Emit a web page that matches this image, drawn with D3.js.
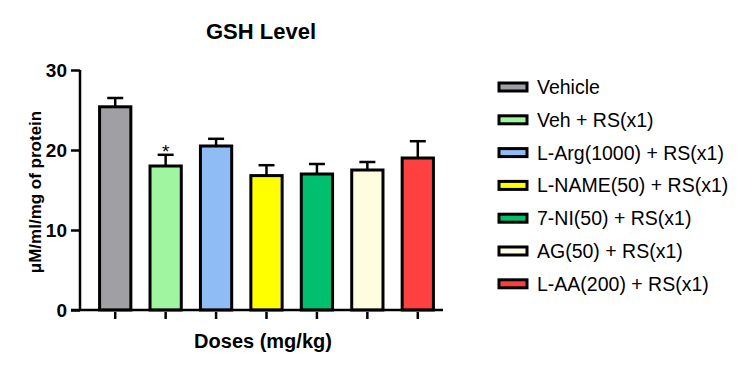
<!DOCTYPE html>
<html>
<head>
<meta charset="utf-8">
<script src="https://cdn.jsdelivr.net/npm/d3@7"></script>
<style>
body{margin:0;background:#fff;}
text{font-family:"Liberation Sans",Arial,sans-serif;}
</style>
</head>
<body>
<div id="chart"></div>
<script>
var groups = ["Vehicle","Veh + RS(x1)","L-Arg(1000) + RS(x1)","L-NAME(50) + RS(x1)","7-NI(50) + RS(x1)","AG(50) + RS(x1)","L-AA(200) + RS(x1)"]
var means = [25.4, 18.0, 20.5, 16.8, 17.0, 17.5, 19.0]
var errs = [1.1, 1.4, 0.9, 1.3, 1.25, 1.0, 2.1]
var marks = ["", "*", "", "", "", "", ""]
var colors = ["#a0a0a4","#a0f5a0","#8fbcf5","#ffff00","#00c070","#fffde0","#ff4040"]
var yTicks = [0,10,20,30]

var W = 750, H = 369
var margin = {top:70, left:80}
var plotW = 363, plotH = 240

var svg = d3.select("#chart").append("svg")
  .attr("width", W).attr("height", H)

var g = svg.append("g").attr("transform","translate(" + margin.left + "," + margin.top + ")")

//scales
var x = d3.scaleBand().domain(groups).range([10, plotW]).paddingInner(0.38).paddingOuter(0.19)
var y = d3.scaleLinear().domain([0,30]).range([plotH,0])

// bars
g.selectAll(".bar").data(groups).enter().append("rect")
  .attr("class","bar")
  .attr("x", function(d){return x(d)})
  .attr("width", x.bandwidth())
  .attr("y", function(d,i){return y(means[i])})
  .attr("height", function(d,i){return plotH - y(means[i])})
  .style("fill", function(d,i){return colors[i]})
  .style("stroke","#000").style("stroke-width",3)

// error bars
var eb = g.selectAll(".err").data(groups).enter().append("g").attr("class","err")
eb.append("line")
  .attr("x1", function(d){return x(d)+x.bandwidth()/2})
  .attr("x2", function(d){return x(d)+x.bandwidth()/2})
  .attr("y1", function(d,i){return y(means[i])})
  .attr("y2", function(d,i){return y(means[i]+errs[i])})
  .style("stroke","#000").style("stroke-width",2.5)
eb.append("line")
  .attr("x1", function(d){return x(d)+x.bandwidth()/2-8})
  .attr("x2", function(d){return x(d)+x.bandwidth()/2+8})
  .attr("y1", function(d,i){return y(means[i]+errs[i])})
  .attr("y2", function(d,i){return y(means[i]+errs[i])})
  .style("stroke","#000").style("stroke-width",2.5)

// significance marks
g.selectAll(".mark").data(groups).enter().append("text")
  .attr("x", function(d){return x(d)+x.bandwidth()/2})
  .attr("y", function(d,i){return y(means[i]+errs[i])+3})
  .attr("text-anchor","middle")
  .style("font-size","19px")
  .text(function(d,i){return marks[i]})

// y axis
var yAxis = g.append("g")
  .call(d3.axisLeft(y).tickValues(yTicks).tickSize(9).tickPadding(4))
yAxis.select(".domain").attr("d","M0," + (plotH+1) + "V0").style("stroke-width",2.5)
yAxis.selectAll(".tick line").style("stroke-width",2.5)
yAxis.selectAll(".tick text").style("font-size","19px").style("font-weight","bold").attr("dy","0.35em")

// x axis
var xAxis = g.append("g").attr("transform","translate(0," + plotH + ")")
  .call(d3.axisBottom(x).tickSize(9).tickFormat(""))
xAxis.select(".domain").attr("d","M-9,0H" + plotW).style("stroke-width",2.5)
xAxis.selectAll(".tick line").style("stroke-width",2.5).attr("y1",2)

// titles
svg.append("text").attr("x",261).attr("y",39).attr("text-anchor","middle")
  .style("font-size","22px").style("font-weight","bold").text("GSH Level")
svg.append("text").attr("x",263).attr("y",348).attr("text-anchor","middle")
  .style("font-size","20px").style("font-weight","bold").text("Doses (mg/kg)")
svg.append("text").attr("transform","translate(41,192) rotate(-90)").attr("text-anchor","middle")
  .style("font-size","17px").style("font-weight","bold").text("\u03bcM/ml/mg of protein")

// legend
var leg = svg.selectAll(".leg").data(groups).enter().append("g")
  .attr("class","leg")
  .attr("transform", function(d,i){return "translate(499," + (87 + i*32.8) + ")"})
leg.append("rect").attr("x",0).attr("y",-4).attr("width",28).attr("height",8)
  .style("fill", function(d,i){return colors[i]})
  .style("stroke","#000").style("stroke-width",3)
leg.append("text").attr("x",38).attr("y",7)
  .style("font-size","19.5px").text(function(d){return d})
</script>
</body>
</html>
